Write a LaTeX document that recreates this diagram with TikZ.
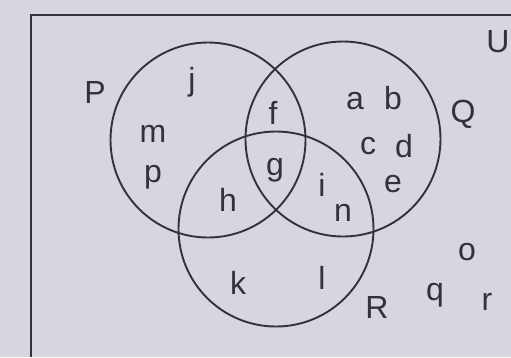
\documentclass[tikz,border=0pt]{standalone}
\usepackage{fontspec}
\setmainfont{Liberation Sans}
\definecolor{paper}{RGB}{214,214,222}
\definecolor{ink}{RGB}{50,50,58}
\begin{document}
\begin{tikzpicture}[x=1pt,y=-1pt,
  ring/.style={draw=ink,line width=1.9pt},
  lbl/.style={text=ink,font=\fontsize{32}{32}\selectfont,inner sep=0pt,anchor=center}]
\fill[paper] (0,0) rectangle (511,357);
\useasboundingbox (0,0) rectangle (511,357);
\draw[ink,line width=2pt] (511,15) -- (31,15) -- (31,357);
\node[ring,circle,minimum size=195pt] (cP) at (208,140) {};
\node[ring,circle,minimum size=195pt] (cQ) at (343,139) {};
\node[ring,circle,minimum size=195pt] (cR) at (276,229) {};
\node[lbl] (tU) at (498,42) {U};
\node[lbl] (tP) at (95,92) {P};
\node[lbl] (tQ) at (463,114) {Q};
\node[lbl] (tR) at (377,307) {R};
\node[lbl] (j) at (192,82) {j};
\node[lbl] (m) at (153,134) {m};
\node[lbl] (p) at (153,177) {p};
\node[lbl] (f) at (273,113) {f};
\node[lbl] (g) at (275,170) {g};
\node[lbl] (h) at (228,200) {h};
\node[lbl] (i) at (322,185) {i};
\node[lbl] (n) at (343,213) {n};
\node[lbl] (a) at (355,101) {a};
\node[lbl] (b) at (393,98) {b};
\node[lbl] (c) at (368,146) {c};
\node[lbl] (d) at (404,146) {d};
\node[lbl] (e) at (393,184) {e};
\node[lbl] (k) at (238,283) {k};
\node[lbl] (l) at (322,278) {l};
\node[lbl] (q) at (435,295) {q};
\node[lbl] (o) at (467,252) {o};
\node[lbl] (r) at (487,302) {r};
\end{tikzpicture}
\end{document}
